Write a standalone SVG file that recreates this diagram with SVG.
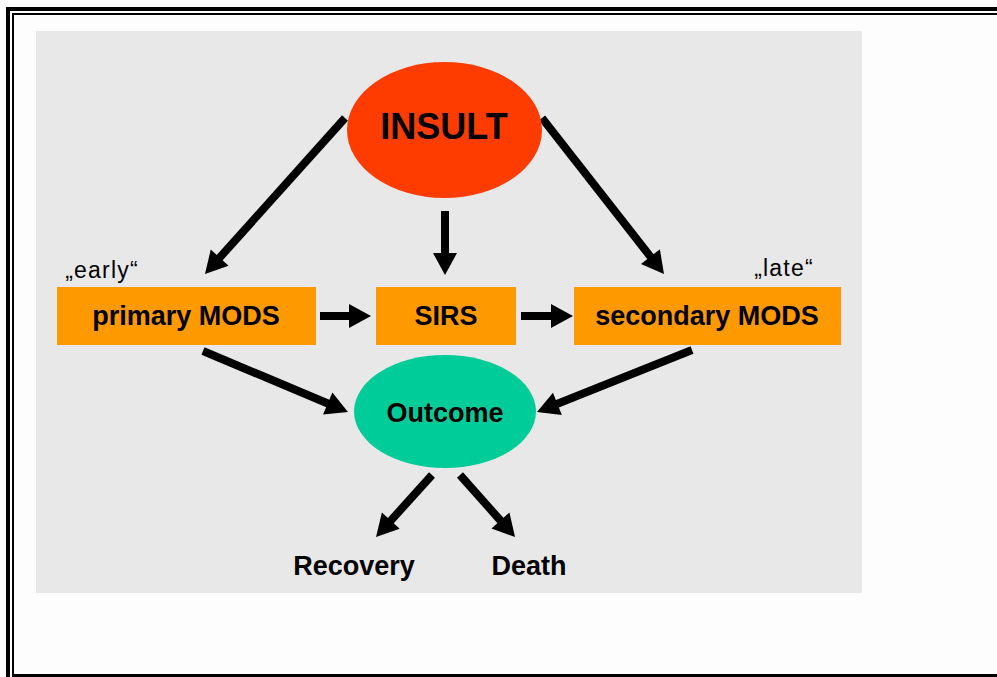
<svg xmlns="http://www.w3.org/2000/svg" width="997" height="677" viewBox="0 0 997 677">
  <style>
    text { font-family: "Liberation Sans", Arial, sans-serif; fill: #000; }
    .lbl { font-weight: bold; font-size: 27px; text-anchor: middle; }
    .tag { font-size: 23px; letter-spacing: 1.2px; text-anchor: middle; }
    .box { fill: #ff9900; }
    .conn line { stroke: #000; stroke-width: 8; marker-end: url(#head); }
  </style>
  <defs>
    <marker id="head" markerUnits="userSpaceOnUse" markerWidth="22" markerHeight="24" refX="4" refY="12" orient="auto" overflow="visible">
      <path d="M0,0 L22,12 L0,24 Z" fill="#000"/>
    </marker>
  </defs>

  <!-- page and frame -->
  <rect x="0" y="0" width="997" height="677" fill="#fdfdfd"/>
  <g id="frame" fill="#000">
    <rect x="6" y="7" width="991" height="4"/>
    <rect x="12" y="13" width="985" height="2"/>
    <rect x="6" y="7" width="4" height="670"/>
    <rect x="12" y="13" width="2" height="664"/>
    <rect x="12" y="674" width="985" height="3"/>
  </g>

  <!-- slide background -->
  <rect x="36" y="31" width="826" height="562" fill="#e8e8e8"/>

  <!-- connectors -->
  <g id="connectors" class="conn">
    <line x1="345" y1="118" x2="217" y2="260.6"/>
    <line x1="542" y1="118" x2="652.9" y2="259.8"/>
    <line x1="445" y1="211" x2="445" y2="257"/>
    <line x1="320" y1="316" x2="353" y2="316"/>
    <line x1="521" y1="316" x2="555" y2="316"/>
    <line x1="203" y1="351" x2="331.4" y2="405"/>
    <line x1="692" y1="350" x2="553.7" y2="405.3"/>
    <line x1="432" y1="475" x2="388.1" y2="523.6"/>
    <line x1="460" y1="475" x2="503.1" y2="523.5"/>
  </g>

  <!-- nodes -->
  <g id="insult">
    <ellipse cx="444.5" cy="130" rx="97.5" ry="68" fill="#ff3c00"/>
    <text x="444" y="139" class="lbl" style="font-size:36px">INSULT</text>
  </g>

  <g id="primary-mods">
    <rect class="box" x="57" y="287" width="259" height="58"/>
    <text x="186" y="325" class="lbl">primary MODS</text>
    <text x="102" y="278" class="tag">„early“</text>
  </g>

  <g id="sirs">
    <rect class="box" x="376" y="287" width="140" height="58"/>
    <text x="446" y="325" class="lbl">SIRS</text>
  </g>

  <g id="secondary-mods">
    <rect class="box" x="574" y="287" width="267" height="58"/>
    <text x="707" y="325" class="lbl">secondary MODS</text>
    <text x="784" y="276" class="tag">„late“</text>
  </g>

  <g id="outcome">
    <ellipse cx="445" cy="411.5" rx="91" ry="56.5" fill="#00cc99"/>
    <text x="445" y="422" class="lbl">Outcome</text>
  </g>

  <g id="recovery">
    <text x="354" y="575" class="lbl">Recovery</text>
  </g>

  <g id="death">
    <text x="529" y="575" class="lbl">Death</text>
  </g>
</svg>
